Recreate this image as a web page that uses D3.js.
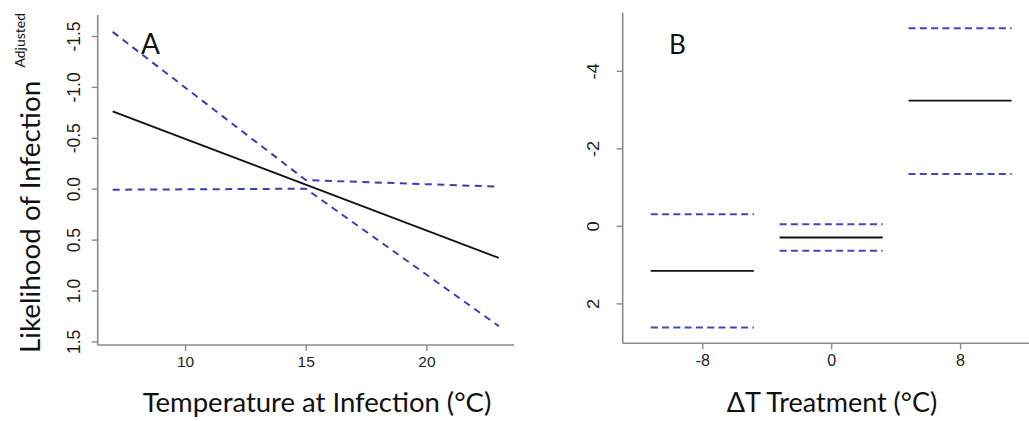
<!DOCTYPE html>
<html><head><meta charset="utf-8">
<script src="https://cdn.jsdelivr.net/npm/d3@7"></script>
<style>html,body{margin:0;padding:0;background:#fff;}svg{display:block;}</style>
</head><body>
<svg id="chart" width="1029" height="421"></svg>
<script>
// ---- Panel A data ----
const tempX = [7, 15, 23];
const fitA = [-0.76, -0.04, 0.68];
const upperA = [-1.54, -0.085, -0.02];
const lowerA = [0.01, 0.0, 1.35];
const tickA_x = [10, 15, 20];
const tickA_y = [-1.5, -1.0, -0.5, 0.0, 0.5, 1.0, 1.5];
const tickA_yLabels = ["-1.5", "-1.0", "-0.5", "0.0", "0.5", "1.0", "1.5"];

// ---- Panel B data ----
const treatments = [-8, 0, 8];
const fitB = [1.16, 0.30, -3.23];
const upperB = [-0.30, -0.04, -5.10];
const lowerB = [2.62, 0.64, -1.34];
const halfWidthB = 3.2;
const tickB_x = [-8, 0, 8];
const tickB_y = [-4, -2, 0, 2];

const svg = d3.select("#chart");
const axisColor = "#8a8a8a";
const dashColor = "#3c3cb0";
const tickFont = "'Liberation Sans', Arial, sans-serif";
const titleFont = "Lato, 'Open Sans', sans-serif";
const fmtInt = d => String(d);

// ---------- Panel A ----------
const xA = d3.scaleLinear().domain([6.38, 23.63]).range([97.7, 514]);
const yA = d3.scaleLinear().domain([-1.706, 1.535]).range([15, 345]);

const gA = svg.append("g");
gA.append("line").attr("x1", xA.range()[0]).attr("x2", xA.range()[0])
  .attr("y1", yA.range()[0]).attr("y2", yA.range()[1])
  .attr("stroke", axisColor).attr("stroke-width", 1.6);
gA.append("line").attr("x1", xA.range()[0]).attr("x2", xA.range()[1])
  .attr("y1", yA.range()[1]).attr("y2", yA.range()[1])
  .attr("stroke", axisColor).attr("stroke-width", 1.6);

const axA_x = d3.axisBottom(xA).tickValues(tickA_x).tickSize(6).tickFormat(fmtInt);
const gxA = gA.append("g").attr("transform", `translate(0,${yA.range()[1]})`).call(axA_x);
gxA.select(".domain").remove();
gxA.selectAll(".tick line").attr("stroke", axisColor).attr("stroke-width", 1.4);
gxA.selectAll(".tick text").attr("font-family", tickFont).attr("font-size", 15.5)
  .attr("fill", "#222").attr("y", 11).attr("dy", "0.71em");

const axA_y = d3.axisLeft(yA).tickValues(tickA_y).tickSize(6).tickFormat((d, i) => tickA_yLabels[i]);
const gyA = gA.append("g").attr("transform", `translate(${xA.range()[0]},0)`).call(axA_y);
gyA.select(".domain").remove();
gyA.selectAll(".tick line").attr("stroke", axisColor).attr("stroke-width", 1.4);
gyA.selectAll(".tick text").attr("font-family", tickFont).attr("font-size", 17.5)
  .attr("fill", "#1a1a1a").attr("x", null).attr("dy", null)
  .attr("text-anchor", "middle")
  .attr("transform", "translate(-18,0) rotate(-90)");

const lineA = d3.line().x(d => xA(d[0])).y(d => yA(d[1]));
gA.append("path").datum(tempX.map((x, i) => [x, upperA[i]]))
  .attr("d", lineA).attr("fill", "none").attr("stroke", dashColor)
  .attr("stroke-width", 2).attr("stroke-dasharray", "7,5.5");
gA.append("path").datum(tempX.map((x, i) => [x, lowerA[i]]))
  .attr("d", lineA).attr("fill", "none").attr("stroke", dashColor)
  .attr("stroke-width", 2).attr("stroke-dasharray", "7,5.5");
gA.append("path").datum(tempX.map((x, i) => [x, fitA[i]]))
  .attr("d", lineA).attr("fill", "none").attr("stroke", "#111")
  .attr("stroke-width", 1.8);

gA.append("text").attr("x", 141).attr("y", 53.5).text("A")
  .attr("font-family", titleFont).attr("font-size", 28).attr("fill", "#111");

svg.append("text").attr("transform", "translate(40,353) rotate(-90)")
  .attr("text-anchor", "start").text("Likelihood of Infection")
  .attr("font-family", titleFont).attr("font-size", 27.8).attr("fill", "#111");
svg.append("text").attr("transform", "translate(25,13) rotate(-90)")
  .attr("text-anchor", "end").text("Adjusted")
  .attr("font-family", titleFont).attr("font-size", 14).attr("fill", "#111");
svg.append("text").attr("x", 317).attr("y", 411.5)
  .attr("text-anchor", "middle").text("Temperature at Infection (°C)")
  .attr("font-family", titleFont).attr("font-size", 27.5).attr("fill", "#111");

// ---------- Panel B ----------
const xB = d3.scaleLinear().domain([-12.94, 12.28]).range([622.7, 1029]);
const yB = d3.scaleLinear().domain([-5.50, 3.03]).range([12.7, 343.3]);
const gB = svg.append("g");
gB.append("line").attr("x1", xB.range()[0]).attr("x2", xB.range()[0])
  .attr("y1", yB.range()[0]).attr("y2", yB.range()[1])
  .attr("stroke", axisColor).attr("stroke-width", 1.6);
gB.append("line").attr("x1", xB.range()[0]).attr("x2", xB.range()[1])
  .attr("y1", yB.range()[1]).attr("y2", yB.range()[1])
  .attr("stroke", axisColor).attr("stroke-width", 1.6);

const axB_x = d3.axisBottom(xB).tickValues(tickB_x).tickSize(6).tickFormat(fmtInt);
const gxB = gB.append("g").attr("transform", `translate(0,${yB.range()[1]})`).call(axB_x);
gxB.select(".domain").remove();
gxB.selectAll(".tick line").attr("stroke", axisColor).attr("stroke-width", 1.4);
gxB.selectAll(".tick text").attr("font-family", tickFont).attr("font-size", 16)
  .attr("fill", "#222").attr("y", 11).attr("dy", "0.71em");

const axB_y = d3.axisLeft(yB).tickValues(tickB_y).tickSize(6).tickFormat(fmtInt);
const gyB = gB.append("g").attr("transform", `translate(${xB.range()[0]},0)`).call(axB_y);
gyB.select(".domain").remove();
gyB.selectAll(".tick line").attr("stroke", axisColor).attr("stroke-width", 1.4);
gyB.selectAll(".tick text").attr("font-family", tickFont).attr("font-size", 16)
  .attr("fill", "#1a1a1a").attr("x", null).attr("dy", null)
  .attr("text-anchor", "middle")
  .attr("transform", "translate(-24,0) rotate(-90) scale(1.15,1)");

function segs(vals) {
  return treatments.map((t, i) => ({ x1: t - halfWidthB, x2: t + halfWidthB, y: vals[i] }));
}
function drawSegs(vals, color, dash, w) {
  gB.selectAll(null).data(segs(vals)).enter().append("line")
    .attr("x1", d => xB(d.x1)).attr("x2", d => xB(d.x2))
    .attr("y1", d => yB(d.y)).attr("y2", d => yB(d.y))
    .attr("stroke", color).attr("stroke-width", w)
    .attr("stroke-dasharray", dash);
}
drawSegs(upperB, "#4646bb", "7,4.3", 2);
drawSegs(lowerB, "#4646bb", "7,4.3", 2);
drawSegs(fitB, "#111", null, 1.8);

gB.append("text").attr("x", 669).attr("y", 53.5).text("B")
  .attr("font-family", titleFont).attr("font-size", 26).attr("fill", "#111");

svg.append("text").attr("x", 832).attr("y", 411.5)
  .attr("text-anchor", "middle").text("ΔT Treatment (°C)")
  .attr("font-family", titleFont).attr("font-size", 27).attr("fill", "#111");
</script>
</body></html>
